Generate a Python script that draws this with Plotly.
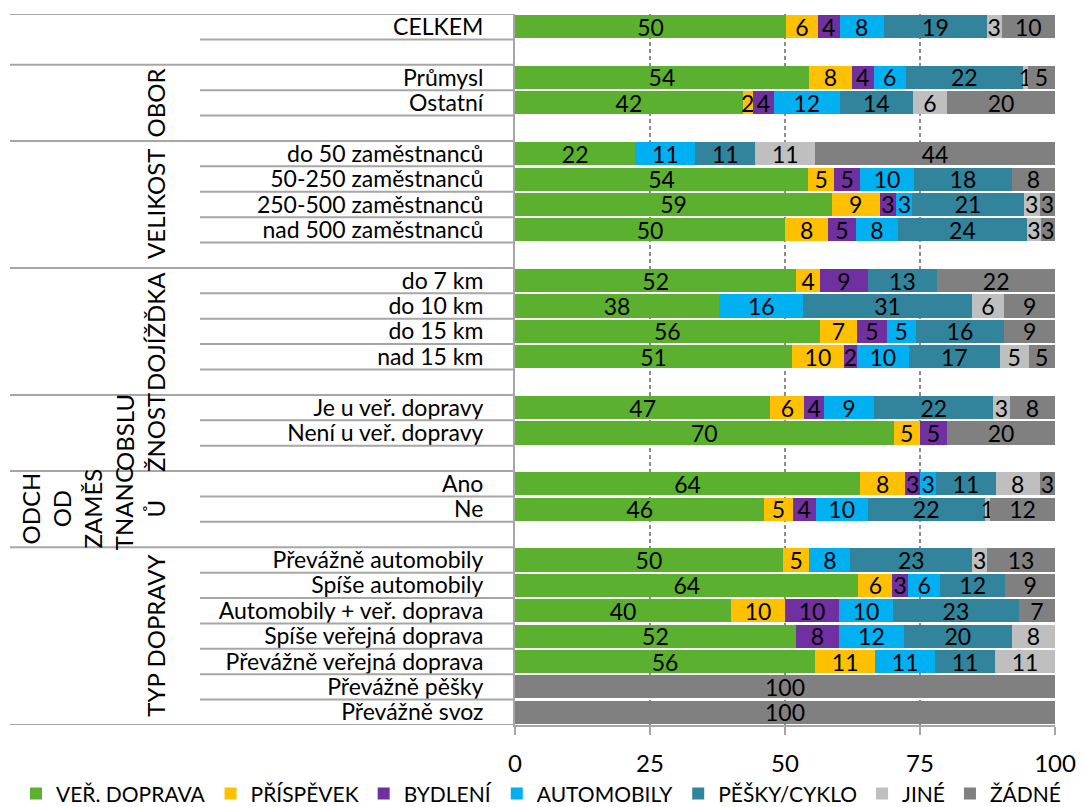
import plotly.graph_objects as go

# ---------------- data ----------------
series = ["VEŘ. DOPRAVA", "PŘÍSPĚVEK", "BYDLENÍ", "AUTOMOBILY", "PĚŠKY/CYKLO", "JINÉ", "ŽÁDNÉ"]
colors = ["#5BB030", "#FFC000", "#7030A0", "#00B0F0", "#31849B", "#BFBFBF", "#808080"]

group_names = ["", "OBOR", "VELIKOST", "DOJÍŽĎKA", "OBSLU<br>ŽNOST",
               "ODCH<br>OD<br>ZAMĚS<br>TNANC<br>Ů", "TYP DOPRAVY"]
group_sizes = [1, 2, 4, 4, 2, 2, 7]

categories = ["CELKEM",
              "Průmysl", "Ostatní",
              "do 50 zaměstnanců", "50-250 zaměstnanců", "250-500 zaměstnanců", "nad 500 zaměstnanců",
              "do 7 km", "do 10 km", "do 15 km", "nad 15 km",
              "Je u veř. dopravy", "Není u veř. dopravy",
              "Ano", "Ne",
              "Převážně automobily", "Spíše automobily", "Automobily + veř. doprava",
              "Spíše veřejná doprava", "Převážně veřejná doprava", "Převážně pěšky", "Převážně svoz"]

ver_doprava = [50.2, 54.4, 42.2, 22.3, 54.3, 58.7, 50.0, 52.1, 37.8, 56.4, 51.3, 47.3, 70.1, 63.9, 46.2,
               49.6, 63.6, 40.0, 52.0, 55.6, None, None]
prispevek = [5.9, 8.0, 1.8, None, 4.8, 8.8, 8.0, 4.4, None, 7.0, 9.6, 6.3, 4.9, 8.4, 5.2,
             4.9, 6.3, 10.0, None, 11.1, None, None]
bydleni = [4.0, 4.0, 4.0, None, 4.8, 3.1, 5.1, 8.8, None, 5.4, 2.4, 3.6, 5.0, 2.7, 4.3,
           None, 2.9, 10.0, 8.0, None, None, None]
automobily = [8.2, 6.0, 12.1, 11.1, 10.0, 3.0, 7.8, None, 15.6, 5.4, 9.6, 9.3, None, 3.0, 9.6,
              7.6, 5.9, 10.0, 12.0, 11.1, None, None]
pesky_cyklo = [19.1, 21.6, 13.6, 11.1, 18.1, 20.6, 23.9, 12.9, 31.2, 16.4, 16.9, 22.1, None, 11.0, 21.7,
               22.6, 12.1, 23.3, 20.0, 11.1, None, None]
jine = [2.7, 1.0, 6.3, 11.1, None, 3.0, 2.6, None, 6.0, None, 5.3, 3.0, None, 8.2, 1.0,
        2.7, None, None, 8.0, 11.1, None, None]
zadne = [9.9, 5.0, 20.0, 44.4, 8.0, 2.8, 2.6, 21.8, 9.4, 9.4, 4.9, 8.4, 20.0, 2.8, 12.0,
         12.6, 9.2, 6.7, None, None, 100, 100]

x_ticks = [0, 25, 50, 75, 100]

values = [ver_doprava, prispevek, bydleni, automobily, pesky_cyklo, jine, zadne]

# ---------------- layout of rows (groups separated by an empty row) ----------------
ypos = []
group_spans = []
p = 0
for gi, n in enumerate(group_sizes):
    start = p
    for i in range(n):
        ypos.append(p)
        p += 1
    group_spans.append((start, n))
    if gi < len(group_sizes) - 1:
        p += 1
n_rows = p

FONT = "Lato"
W, H = 1084, 807
ML, MR, MT, MB = 515, 29, 14, 82
PW = W - ML - MR


def px_to_paper_x(px):
    return (px - ML) / PW


fig = go.Figure()
for name, col, vals in zip(series, colors, values):
    fig.add_trace(go.Bar(
        name=name, orientation="h", y=ypos, x=vals,
        marker=dict(color=col, line=dict(width=0)),
        texttemplate="%{x:.0f}", textposition="inside", insidetextanchor="middle",
        textangle=0, constraintext="none",
        textfont=dict(family=FONT, size=23, color="black"),
        hoverinfo="skip",
    ))

shapes = []
line_col = "#A6A6A6"
full_x0 = px_to_paper_x(10)
part_x0 = px_to_paper_x(200)
for gi, (start, n) in enumerate(group_spans):
    shapes.append(dict(type="line", xref="paper", yref="y", x0=full_x0, x1=0,
                       y0=start - 0.5, y1=start - 0.5, line=dict(color=line_col, width=2)))
    for i in range(n):
        last = (gi == len(group_spans) - 1) and (i == n - 1)
        x0 = full_x0 if last else part_x0
        shapes.append(dict(type="line", xref="paper", yref="y", x0=x0, x1=0,
                           y0=start + i + 0.5, y1=start + i + 0.5, line=dict(color=line_col, width=2)))

annotations = []
for gi, (start, n) in enumerate(group_spans):
    if not group_names[gi]:
        continue
    end = start + n if gi < len(group_spans) - 1 else start + n - 1
    yc = (start - 0.5 + end + 0.5) / 2
    annotations.append(dict(text=group_names[gi], xref="paper", yref="y",
                            x=px_to_paper_x(172), y=yc, xanchor="right", yanchor="middle",
                            textangle=-90, showarrow=False,
                            font=dict(family=FONT, size=24, color="black")))

fig.update_layout(
    width=W, height=H,
    template="none",
    barmode="stack", bargap=0.09,
    paper_bgcolor="white", plot_bgcolor="white",
    margin=dict(l=ML, r=MR, t=MT, b=MB, autoexpand=False),
    font=dict(family=FONT, size=23, color="black"),
    shapes=shapes, annotations=annotations,
    showlegend=True,
    legend=dict(orientation="h", x=px_to_paper_x(16), xanchor="left",
                y=-0.068, yanchor="top", traceorder="normal",
                font=dict(family=FONT, size=21, color="black"),
                itemwidth=30, tracegroupgap=0, bgcolor="rgba(0,0,0,0)"),
    xaxis=dict(range=[0, 100], tickvals=x_ticks, ticks="outside", ticklen=8, tickwidth=2,
               tickcolor=line_col, showline=True, linecolor=line_col, linewidth=2,
               showgrid=True, gridcolor="#8C8C8C", gridwidth=1.5, griddash="4px,3px",
               zeroline=False, ticklabelstandoff=8,
               tickfont=dict(family=FONT, size=24, color="black"), automargin=False),
    yaxis=dict(range=[n_rows - 0.5, -0.5], tickvals=ypos, ticktext=categories,
               ticks="", showline=True, linecolor=line_col, linewidth=2,
               showgrid=False, zeroline=False, ticklabelstandoff=25,
               tickfont=dict(family=FONT, size=23, color="black"), automargin=False),
)

fig.write_html("out.html")
